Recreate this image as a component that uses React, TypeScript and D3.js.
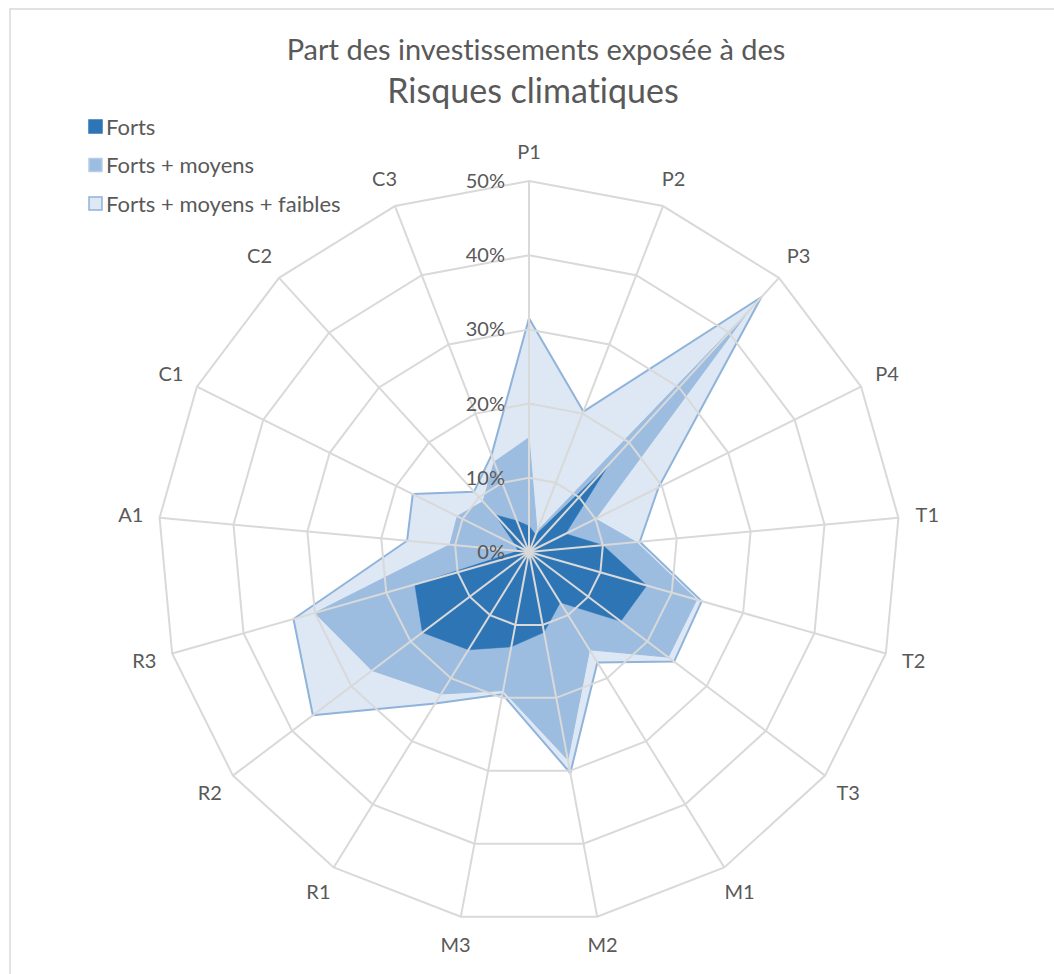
import { useEffect, useRef } from "react";
import * as d3 from "d3";

// categories, clockwise from the top
const categories = ["P1", "P2", "P3", "P4", "T1", "T2", "T3", "M1", "M2", "M3", "R1", "R2", "R3", "A1", "C1", "C2", "C3"];

// values in %
const forts = [3.5, 2.5, 16, 5.5, 10, 16.5, 15.5, 8, 11, 13, 15.5, 18, 16, 1.5, 2, 6.8, 4.5];
const fortsMoyens = [15.4, 3, 44, 10, 14.5, 23.5, 23.5, 15.5, 28.5, 19, 22.5, 26.5, 30, 10.7, 10.8, 9.2, 13];
const fortsMoyensFaibles = [31.5, 20.3, 46.5, 19.5, 15, 24.2, 24.5, 17.5, 30.3, 19.5, 24, 36.5, 33, 16.5, 17.5, 11, 14];

const ticks = [0, 10, 20, 30, 40, 50];

const seriesNames = ["Forts", "Forts + moyens", "Forts + moyens + faibles"];

const FONT = "Lato, 'Open Sans', sans-serif";

const App = () => {
    const ref = useRef<SVGSVGElement>(null);

    useEffect(() => {
        const width = 1054;
        const height = 974;
        const cx = 529;
        const cy = 552;
        const radius = 371;

        const svg = d3.select(ref.current);
        svg.selectAll("*").remove();

        svg.append("rect")
            .attr("x", 10).attr("y", 9)
            .attr("width", width + 20).attr("height", height + 20)
            .attr("fill", "#fff")
            .attr("stroke", "#d9d9d9")
            .attr("stroke-width", 1.5);

        // title
        svg.append("text")
            .attr("x", 536).attr("y", 60)
            .attr("text-anchor", "middle")
            .attr("font-family", FONT)
            .attr("font-size", 29)
            .attr("fill", "#595959")
            .text("Part des investissements exposée à des");
        svg.append("text")
            .attr("x", 533).attr("y", 103)
            .attr("text-anchor", "middle")
            .attr("font-family", FONT)
            .attr("font-size", 34)
            .attr("fill", "#595959")
            .text("Risques climatiques");

        const r = d3.scaleLinear().domain([0, 50]).range([0, radius]);
        const angle = d3.scaleLinear().domain([0, categories.length]).range([0, 2 * Math.PI]);

        const g = svg.append("g").attr("transform", `translate(${cx}, ${cy})`);

        const radar = d3.lineRadial<number>()
            .angle((d, i) => angle(i))
            .radius((d) => r(d))
            .curve(d3.curveLinearClosed);

        const styles = [
            { data: fortsMoyensFaibles, fill: "#dde8f4", stroke: "#8fb3da", sw: 2 },
            { data: fortsMoyens, fill: "#9cbde0", stroke: "#9cbde0", sw: 1 },
            { data: forts, fill: "#2e75b6", stroke: "#2e75b6", sw: 0.5 },
        ];
        styles.forEach((s) => {
            g.append("path")
                .attr("d", radar(s.data))
                .attr("fill", s.fill)
                .attr("stroke", s.stroke)
                .attr("stroke-width", s.sw)
                .attr("stroke-linejoin", "round");
        });

        // grid on top of the areas
        const ring = d3.lineRadial<string>()
            .angle((d, i) => angle(i))
            .curve(d3.curveLinearClosed);
        ticks.slice(1).forEach((t) => {
            g.append("path")
                .attr("d", ring.radius(r(t))(categories))
                .attr("fill", "none")
                .attr("stroke", "#d9d9d9")
                .attr("stroke-width", 2);
        });
        categories.forEach((c, i) => {
            const a = angle(i);
            g.append("line")
                .attr("x1", 0).attr("y1", 0)
                .attr("x2", Math.sin(a) * radius)
                .attr("y2", -Math.cos(a) * radius)
                .attr("stroke", "#d9d9d9")
                .attr("stroke-width", 2);
        });

        // tick labels
        ticks.forEach((t) => {
            g.append("text")
                .attr("x", -24)
                .attr("y", -r(t))
                .attr("dy", "0.35em")
                .attr("text-anchor", "end")
                .attr("font-family", FONT)
                .attr("font-size", 20)
                .attr("fill", "#595959")
                .text(`${t}%`);
        });

        // category labels
        categories.forEach((c, i) => {
            const a = angle(i);
            const lr = radius + 29;
            g.append("text")
                .attr("x", Math.sin(a) * lr)
                .attr("y", -Math.cos(a) * lr)
                .attr("dy", "0.35em")
                .attr("text-anchor", "middle")
                .attr("font-family", FONT)
                .attr("font-size", 20)
                .attr("fill", "#595959")
                .text(c);
        });

        // legend
        const legendFill = ["#2e75b6", "#9cbde0", "#dde8f4"];
        const legendStroke = ["#2e75b6", "#b4cde8", "#8fb3da"];
        seriesNames.forEach((name, i) => {
            const y = 127 + i * 38.5;
            svg.append("rect")
                .attr("x", 89).attr("y", y - 7)
                .attr("width", 13).attr("height", 13)
                .attr("fill", legendFill[i])
                .attr("stroke", legendStroke[i])
                .attr("stroke-width", 1.5);
            svg.append("text")
                .attr("x", 106).attr("y", y)
                .attr("dy", "0.35em")
                .attr("font-family", FONT)
                .attr("font-size", 22)
                .attr("fill", "#595959")
                .text(name);
        });
    }, []);

    return (
        <svg ref={ref} width={1054} height={974}
            style={{ position: "absolute", left: 0, top: 0, background: "#fff", fontVariantLigatures: "none" }} />
    );
};

export default App;
